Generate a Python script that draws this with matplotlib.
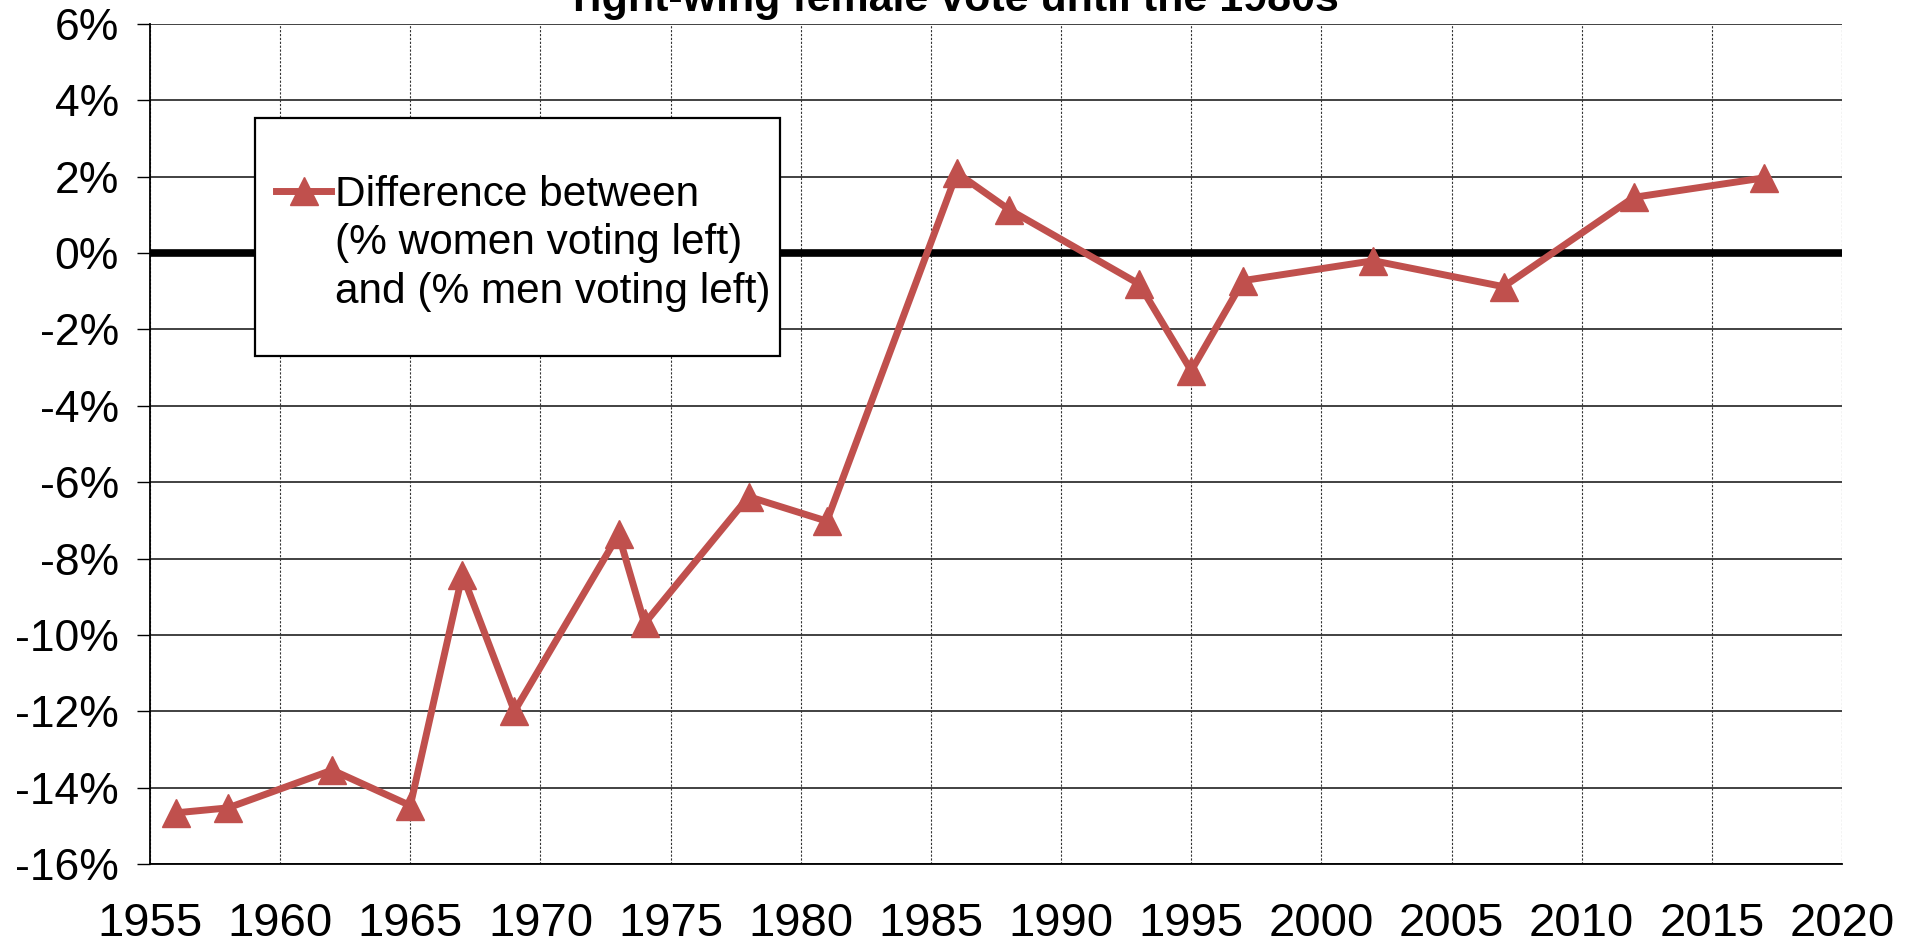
import numpy as np
import matplotlib
matplotlib.use('Agg')
import matplotlib.pyplot as plt
from matplotlib.lines import Line2D
from matplotlib.patches import Rectangle
from matplotlib.ticker import FuncFormatter

plt.rcParams['font.family'] = ['Liberation Sans', 'DejaVu Sans']
plt.rcParams['axes.unicode_minus'] = False

# election years and gender gap in left vote (% points, women minus men)
years = [1956, 1958, 1962, 1965, 1967, 1969, 1973, 1974, 1978, 1981,
         1986, 1988, 1993, 1995, 1997, 2002, 2007, 2012, 2017]
gap = [-14.66, -14.53, -13.54, -14.47, -8.42, -12.0, -7.37, -9.70, -6.38, -7.02,
       2.10, 1.14, -0.81, -3.08, -0.72, -0.20, -0.88, 1.46, 1.97]
label_lines = ['Difference between', '(% women voting left)', 'and (% men voting left)']
title = 'right-wing female vote until the 1980s'

red = '#C0504D'

fig = plt.figure(figsize=(19.12, 9.44), dpi=100)
ax = fig.add_axes([150/1912, 1-864/944, 1692/1912, 840/944])

line, = ax.plot(years, gap, color=red, lw=5, marker='^', markersize=20, zorder=4)
ax.axhline(0, color='black', lw=5.5, zorder=3)

ax.set_xlim(1955, 2020)
ax.set_ylim(-16, 6)
ax.set_xticks(np.arange(1955, 2021, 5))
ax.set_yticks(np.arange(-16, 7, 2))
ax.yaxis.set_major_formatter(FuncFormatter(lambda v, p: '{:.0f}%'.format(v)))
ax.tick_params(axis='x', length=0, labelsize=34, pad=27)
ax.tick_params(axis='y', length=9.5, width=1, labelsize=32, pad=13)

ax.grid(axis='y', color='#333333', lw=1.3, linestyle='-')
ax.grid(axis='x', color='#333333', lw=0.8, linestyle=(0, (2, 1.5)))
for s in ['top', 'right']:
    ax.spines[s].set_visible(False)
for s in ['left', 'bottom']:
    ax.spines[s].set_linewidth(1.3)

# legend box drawn separately so the padding can be uneven like the original
box = Rectangle((0.0621, 0.6048), 0.3102, 0.2832, transform=ax.transAxes,
                facecolor='white', edgecolor='black', lw=1.6, zorder=5)
ax.add_patch(box)

# marker sits on the first text line
blank = Line2D([], [], linestyle='none', marker='none')
leg = ax.legend([line, blank, blank], label_lines, loc='upper left',
                bbox_to_anchor=(0.0745, 0.8205), fontsize=30.5,
                frameon=False, handlelength=1.3, handletextpad=0.1,
                borderpad=0, borderaxespad=0, labelspacing=0.2)
leg.set_zorder(6)

fig.text(0.5, 1 - 11/944, title, ha='center', va='baseline',
         fontsize=31, fontweight='bold')

fig.savefig('out.png', dpi=100)
